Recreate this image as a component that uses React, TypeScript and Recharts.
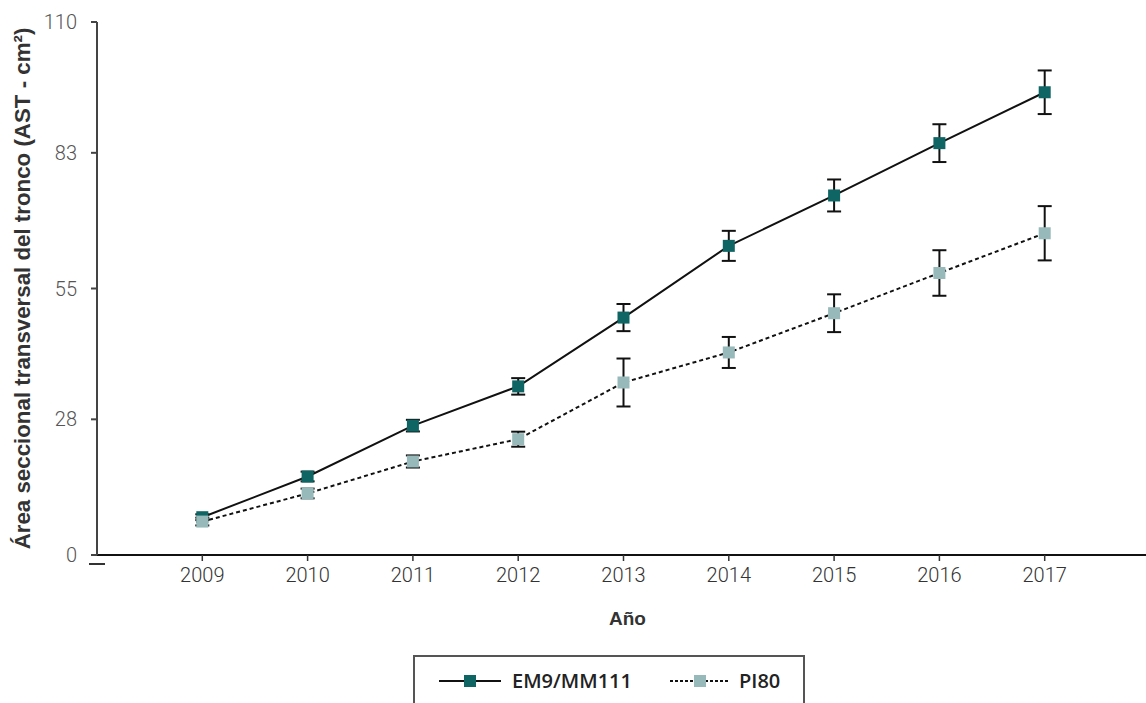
import React from "react";
import { LineChart, Line, XAxis, YAxis, ErrorBar } from "recharts";

const years = [2009, 2010, 2011, 2012, 2013, 2014, 2015, 2016, 2017];
const em9 = [7.8, 16.2, 26.7, 34.8, 49.0, 63.8, 74.2, 85.0, 95.5];
const em9Err = [0.6, 1.0, 1.2, 1.7, 2.8, 3.1, 3.3, 3.9, 4.5];
const pi80 = [6.9, 12.7, 19.3, 23.9, 35.6, 41.8, 49.9, 58.2, 66.4];
const pi80Err = [0.8, 1.0, 1.25, 1.55, 4.95, 3.2, 3.9, 4.7, 5.6];
const yTicks = [0, 28, 55, 83, 110];

const DARK = "#0f6464";
const LIGHT = "#97b9b9";

const data = years.map((y, i) => ({
  year: y,
  em9: em9[i],
  em9Err: em9Err[i],
  pi80: pi80[i],
  pi80Err: pi80Err[i],
}));

const squareDot = (fill: string) => (props: any) => {
  const { cx, cy, index } = props;
  if (cx == null || cy == null) return null;
  return <rect key={index} x={cx - 6} y={cy - 6} width={12} height={12} fill={fill} />;
};

// y tick; the 0 tick has an extra short line under it, like the source
const YTick = (props: any) => {
  const { x, y, payload } = props;
  return (
    <g>
      <text x={x} y={y} dy="0.35em" textAnchor="end" fontSize={20} fill="#555" fontWeight={300}>
        {payload.value}
      </text>
      {payload.value === 0 && (
        <line x1={x + 12} x2={x + 28} y1={y + 9} y2={y + 9} stroke="#333" strokeWidth={2} />
      )}
    </g>
  );
};

function LegendBox() {
  const item = (color: string, dash: string | undefined, label: string, w: number, gap: number) => (
    <div style={{ display: "flex", alignItems: "center" }}>
      <svg width={w} height={14} style={{ marginRight: gap }}>
        <line x1={0} x2={w} y1={7} y2={7} stroke="#111" strokeWidth={2} strokeDasharray={dash} />
        <rect x={w / 2 - 6} y={1} width={12} height={12} fill={color} />
      </svg>
      <span>{label}</span>
    </div>
  );
  return (
    <div
      style={{
        position: "absolute",
        left: 413,
        top: 655,
        width: 392,
        height: 52,
        border: "2px solid #555",
        display: "flex",
        alignItems: "center",
        paddingLeft: 24,
        boxSizing: "border-box",
        fontFamily: "'Open Sans', sans-serif",
        fontSize: 20,
        fontWeight: 600,
        lineHeight: "26px",
        color: "#222",
        gap: 38,
      }}
    >
      {item(DARK, undefined, "EM9/MM111", 62, 11)}
      {item(LIGHT, "3 2", "PI80", 60, 9)}
    </div>
  );
}

export default function App() {
  return (
    <div
      style={{
        position: "absolute",
        left: 0,
        top: 0,
        width: 1146,
        height: 703,
        overflow: "hidden",
        background: "#fff",
        fontFamily: "Roboto, sans-serif",
      }}
    >
      <LineChart width={1150} height={703} data={data} margin={{ top: 22, right: 0, left: 0, bottom: 68 }}>
        <XAxis
          dataKey="year"
          type="number"
          domain={[2008, 2018]}
          ticks={years}
          height={80}
          tickSize={6}
          tickMargin={7}
          tick={{ fontSize: 20, fill: "#333", fontWeight: 300 }}
          axisLine={{ stroke: "#111", strokeWidth: 2 }}
          tickLine={{ stroke: "#333", strokeWidth: 1.5 }}
          label={{
            value: "Año",
            position: "insideBottom",
            offset: 10,
            fontSize: 19,
            fontWeight: 700,
            fill: "#333",
            fontFamily: "'Liberation Sans', Arial, sans-serif",
            dx: 4,
          }}
        />
        <YAxis
          type="number"
          domain={[0, 110]}
          ticks={yTicks}
          width={97}
          tickSize={6}
          tickMargin={14}
          tick={<YTick />}
          axisLine={{ stroke: "#444", strokeWidth: 2 }}
          tickLine={{ stroke: "#444", strokeWidth: 2 }}
          label={{
            value: "Área seccional transversal del tronco (AST - cm²)",
            angle: -90,
            position: "insideLeft",
            offset: 22,
            style: { textAnchor: "middle" },
            fontSize: 22.3,
            fontWeight: 700,
            fill: "#333",
            fontFamily: "'Liberation Sans', Arial, sans-serif",
          }}
        />
        <Line
          dataKey="em9"
          name="EM9/MM111"
          stroke="#111"
          strokeWidth={2}
          isAnimationActive={false}
          dot={squareDot(DARK)}
          activeDot={false}
        >
          <ErrorBar dataKey="em9Err" width={7} stroke="#111" strokeWidth={2} direction="y" />
        </Line>
        <Line
          dataKey="pi80"
          name="PI80"
          stroke="#111"
          strokeWidth={2}
          strokeDasharray="4 3"
          isAnimationActive={false}
          dot={squareDot(LIGHT)}
          activeDot={false}
        >
          <ErrorBar dataKey="pi80Err" width={7} stroke="#111" strokeWidth={2} direction="y" />
        </Line>
      </LineChart>
      <LegendBox />
    </div>
  );
}
